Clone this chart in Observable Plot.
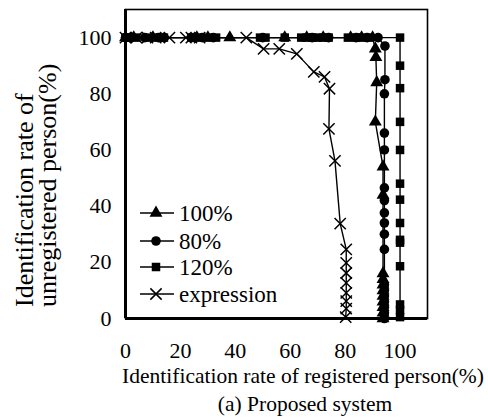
<!DOCTYPE html>
<html>
<head>
<meta charset="utf-8">
<script src="https://cdn.jsdelivr.net/npm/d3@7"></script>
<script src="https://cdn.jsdelivr.net/npm/@observablehq/plot@0.6"></script>
<style>
  html, body { margin: 0; padding: 0; background: white; }
  #wrap { position: relative; width: 488px; height: 420px; font-family: "Liberation Serif", "Times New Roman", serif; }
  #chart svg text { font-family: "Liberation Serif", "Times New Roman", serif !important; }
  #caption { position: absolute; left: 0; width: 488px; top: 392px; text-align: center; font-size: 21.5px; padding-left: 122px; box-sizing: border-box; color: black; }
</style>
</head>
<body>
<div id="wrap"><div id="chart"></div><div id="caption">(a) Proposed system</div></div>
<script>
// ---- data ----
const seriesNames = ["100%", "80%", "120%", "expression"];
const xTicks = [0, 20, 40, 60, 80, 100];
const yTicks = [0, 20, 40, 60, 80, 100];

// 100% (triangles)
const x100 = [0, 3, 10, 26, 30, 38, 58, 66, 72, 82, 86, 90, 91, 91.2, 91.5, 91, 93.8, 93.8, 93.8, 93.8, 93.8, 93.8, 93.8, 93.8, 93.8, 93.8, 93.8];
const y100 = [100, 100, 100, 100, 100, 100, 100, 100, 100, 100, 100, 100, 96, 93, 84, 70, 54, 44, 16, 14, 12, 10, 8, 6, 4, 2, 0];

// 80% (circles)
const x80 = [0, 2, 7, 12, 14, 24, 28, 32, 50, 68, 74, 84, 88, 92, 94.5, 94.5, 94.3, 94.3, 94.3, 94.3, 94.3, 94.3, 94.3, 94.3, 94.3, 94.3, 94.3, 94.3, 94.3, 94.3, 94.3, 94.3];
const y80 = [100, 100, 100, 100, 100, 100, 100, 100, 100, 100, 100, 100, 100, 100, 97, 85, 80, 66, 60, 46.5, 42, 37.6, 34, 30, 24.6, 12, 10, 8, 6, 4, 2, 0];

// 120% (squares)
const x120 = [0, 1, 4, 9, 12, 14, 24, 27, 30, 33, 49, 51, 58, 64, 66, 68, 70, 72, 74, 81, 84, 86, 89, 100, 100, 100, 100, 100, 100, 100, 100, 100, 100, 100, 100, 100, 100];
const y120 = [100, 100, 100, 100, 100, 100, 100, 100, 100, 100, 100, 100, 100, 100, 100, 100, 100, 100, 100, 100, 100, 100, 100, 100, 90, 82, 70, 60, 48, 42.3, 34, 28, 27, 18.6, 5, 3, 0.5];

// expression (times)
const xExp = [0, 4, 8, 11, 16, 22, 24, 27, 44, 50.3, 56, 62.4, 68.6, 72.5, 74.3, 74.1, 76.3, 78.2, 80.4, 80.4, 80.4, 80.4, 80.4, 80.4, 80.4, 80.2];
const yExp = [100, 100, 100, 100, 100, 100, 100, 100, 100, 96, 96, 94.2, 87.8, 86, 81.8, 67.5, 56.1, 33.8, 24.6, 19.8, 16.2, 12.7, 9.1, 6.2, 3.5, 0.5];

const symbolOf = {"100%": "triangle", "80%": "circle", "120%": "square", "expression": "times"};

const rows = [];
[[x100, y100], [x80, y80], [x120, y120], [xExp, yExp]].forEach(([xs, ys], i) => {
  xs.forEach((x, j) => rows.push({series: seriesNames[i], x, y: ys[j]}));
});
const filled = rows.filter(d => d.series !== "expression");
const crosses = rows.filter(d => d.series === "expression");

const FONT = '"Liberation Serif", "Times New Roman", serif';
const W = 488, H = 390;
const chart = Plot.plot({
  width: W,
  height: H,
  marginLeft: 125,
  marginRight: 61,
  marginTop: 9,
  marginBottom: H - 318,
  style: {fontFamily: FONT, fontSize: "22px", color: "black", background: "white", overflow: "visible"},
  x: {domain: [0, 110]},
  y: {domain: [0, 110]},
  symbol: {domain: seriesNames, range: seriesNames.map(s => symbolOf[s])},
  marks: [
    Plot.axisX({ticks: xTicks, tickSize: 0, tickPadding: 24, label: null, fontSize: 22}),
    Plot.axisY({ticks: yTicks, tickSize: 0, tickPadding: 14, label: null, fontSize: 22}),
    Plot.frame({stroke: "black", strokeWidth: 1.6}),
    Plot.ruleX([0], {stroke: "black", strokeWidth: 3}),
    Plot.ruleY([0], {stroke: "black", strokeWidth: 3}),
    Plot.line(rows, {x: "x", y: "y", z: "series", stroke: "black", strokeWidth: 1.4}),
    Plot.dot(filled, {x: "x", y: "y", symbol: "series", fill: "black", stroke: "none", r: 4.8}),
    Plot.dot(crosses, {x: "x", y: "y", symbol: "series", stroke: "black", strokeWidth: 1.5, r: 5.2})
  ]
});
document.getElementById("chart").appendChild(chart);

const svg = d3.select(chart);

// y axis title (two lines, rotated)
const yTitle = ["Identification rate of", "unregistered person(%)"];
const yTitleX = [33, 56];
yTitle.forEach((t, i) => {
  svg.append("text")
    .attr("transform", `translate(${yTitleX[i]},307) rotate(-90)`)
    .attr("text-anchor", "start")
    .style("font-family", FONT)
    .style("font-size", "26px")
    .attr("fill", "black")
    .text(t);
});

// x axis title
svg.append("text")
  .attr("x", 303).attr("y", 383)
  .attr("text-anchor", "middle")
  .style("font-family", FONT)
  .style("font-size", "21.5px")
  .attr("fill", "black")
  .text("Identification rate of registered person(%)");

// legend
const legendY = [213, 241, 267, 294];
const lg = svg.append("g");
seriesNames.forEach((s, i) => {
  const g = lg.append("g").attr("transform", `translate(0,${legendY[i]})`);
  g.append("line").attr("x1", 140).attr("x2", 174).attr("y1", 0).attr("y2", 0)
    .attr("stroke", "black").attr("stroke-width", 1.4);
  const sym = symbolOf[s];
  const d3sym = {triangle: d3.symbolTriangle, circle: d3.symbolCircle, square: d3.symbolSquare, times: d3.symbolTimes}[sym];
  const size = Math.PI * (sym === "times" ? 5.2 * 5.2 : 4.8 * 4.8);
  const p = g.append("path").attr("transform", "translate(156,0)").attr("d", d3.symbol(d3sym, size)());
  if (sym === "times") p.attr("fill", "none").attr("stroke", "black").attr("stroke-width", 1.5);
  else p.attr("fill", "black");
  g.append("text").attr("x", 179).attr("y", 0).attr("dy", "0.35em")
    .attr("text-anchor", "start")
    .style("font-family", FONT).style("font-size", "23px").attr("fill", "black").text(s);
});
</script>
</body>
</html>
